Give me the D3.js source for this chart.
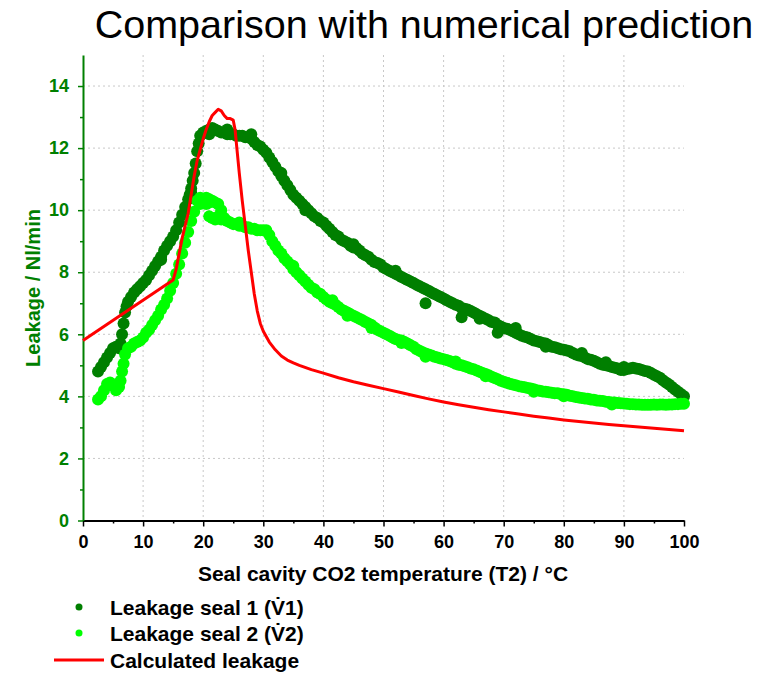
<!DOCTYPE html>
<html>
<head>
<meta charset="utf-8">
<script src="https://cdn.jsdelivr.net/npm/d3@7"></script>
<style>
  body { margin: 0; background: #fff; }
  svg { display: block; font-family: Arial, "Liberation Sans", sans-serif; }
</style>
</head>
<body>
<svg id="chart" width="774" height="673"></svg>
<script>
// Measured leakage of seal 1, [temperature °C, leakage Nl/min]
const seal1 = [
  [2.5,4.8],[3,4.95],[3.5,5.1],[4,5.25],[4.5,5.4],[5,5.55],[5.5,5.6],[6,5.55],[6.25,5.7],[6.5,6.0],
  [6.75,6.35],[7,6.7],[7.25,6.9],[7.5,7.05],[8,7.2],[8.5,7.35],[9,7.45],[9.5,7.55],[10,7.65],[10.5,7.75],
  [11,7.9],[11.5,8.05],[12,8.2],[12.5,8.35],[13,8.5],[13.5,8.7],[14,8.85],[14.5,9.0],[15,9.15],[15.5,9.35],
  [16,9.6],[16.5,9.85],[17,10.1],[17.5,10.35],[17.75,10.5],[18,10.7],[18.25,10.95],[18.5,11.2],[18.75,11.5],[19,11.9],
  [19.25,12.15],[19.5,12.4],[20,12.5],[20.5,12.55],[21,12.6],[21.5,12.65],[22,12.6],[22.5,12.55],[23,12.5],[23.5,12.5],
  [24,12.45],[24.5,12.45],[25,12.45],[25.5,12.4],[26,12.4],[26.5,12.4],[27,12.35],[27.5,12.35],[28,12.3],[28.5,12.2],
  [29,12.1],[29.5,12.05],[30,11.95],[30.5,11.85],[31,11.7],[31.5,11.55],[32,11.4],[32.5,11.25],[33,11.1],[33.5,10.95],
  [34,10.8],[34.5,10.65],[35,10.5],[35.5,10.4],[36,10.3],[36.5,10.2],[37,10.1],[37.5,10.0],[38,9.9],[38.5,9.8],
  [39,9.75],[39.5,9.65],[40,9.6],[40.5,9.5],[41,9.4],[41.5,9.3],[42,9.2],[42.5,9.15],[43,9.05],[43.5,9.0],
  [44,8.95],[44.5,8.85],[45,8.8],[45.5,8.78],[46,8.7],[46.5,8.6],[47,8.55],[47.5,8.5],[48,8.4],[48.5,8.33],
  [49,8.3],[49.5,8.25],[50,8.15],[50.5,8.1],[51,8.05],[51.5,8.0],[52,7.95],[52.5,7.9],[53,7.85],[53.5,7.8],
  [54,7.75],[54.5,7.7],[55,7.65],[55.5,7.6],[56,7.55],[56.5,7.5],[57,7.45],[57.5,7.4],[58,7.35],[58.5,7.3],
  [59,7.25],[59.5,7.2],[60,7.15],[60.5,7.1],[61,7.05],[61.5,7.0],[62,6.95],[62.5,6.92],[63,6.85],[63.5,6.82],
  [64,6.8],[64.5,6.75],[65,6.7],[65.5,6.65],[66,6.6],[66.5,6.55],[67,6.5],[67.5,6.45],[68,6.4],[68.5,6.38],
  [69,6.3],[69.5,6.25],[70,6.2],[70.5,6.18],[71,6.15],[71.5,6.1],[72,6.05],[72.5,6.0],[73,5.95],[73.5,5.92],
  [74,5.9],[74.5,5.85],[75,5.8],[75.5,5.78],[76,5.75],[76.5,5.72],[77,5.7],[77.5,5.65],[78,5.6],[78.5,5.58],
  [79,5.55],[79.5,5.52],[80,5.5],[80.5,5.48],[81,5.45],[81.5,5.4],[82,5.35],[82.5,5.32],[83,5.3],[83.5,5.25],
  [84,5.2],[84.5,5.18],[85,5.15],[85.5,5.1],[86,5.05],[86.5,5.02],[87,5.0],[87.5,4.98],[88,4.95],[88.5,4.92],
  [89,4.9],[89.5,4.85],[90,4.85],[90.5,4.88],[91,4.9],[91.5,4.92],[92,4.9],[92.5,4.88],[93,4.85],[93.5,4.82],
  [94,4.8],[94.5,4.75],[95,4.7],[95.5,4.65],[96,4.6],[96.5,4.52],[97,4.45],[97.5,4.38],[98,4.3],[98.5,4.22],
  [99,4.15],[99.5,4.08],[100,4.0],
  [57,7.0],[63,6.55],[69,6.05],[72,6.2],[90,4.95],[21,12.45],[24,12.6],[28,12.45],[45,8.9],[83,5.4],
  [33,11.2],[37,10.0],[52,8.05],[66,6.5],[77,5.6],[87,5.1],[18,10.55],[13,8.4]
];

// Measured leakage of seal 2, [temperature °C, leakage Nl/min]
const seal2 = [
  [2.5,3.9],[3,4.0],[3.5,4.2],[4,4.4],[4.5,4.45],[5,4.35],[5.5,4.2],[6,4.3],[6.25,4.5],[6.5,4.8],
  [6.75,5.05],[7,5.35],[7.5,5.55],[8,5.6],[8.5,5.7],[9,5.75],[9.5,5.8],[10,5.9],[10.5,6.05],[11,6.15],
  [11.5,6.3],[12,6.45],[12.5,6.6],[13,6.8],[13.5,6.95],[14,7.15],[14.5,7.4],[15,7.65],[15.5,7.95],[16,8.25],
  [16.5,8.6],[17,8.95],[17.5,9.3],[18,9.65],[18.5,9.95],[19,10.3],[19.5,10.4],[20,10.3],[20.5,10.2],[21,10.25],
  [21.5,10.3],[22,10.25],[22.5,10.2],[23,10.0],[23.5,9.75],[24,9.65],[24.5,9.6],[25,9.55],[25.5,9.55],[26,9.5],
  [26.5,9.5],[27,9.45],[27.5,9.45],[28,9.4],[28.5,9.4],[29,9.35],[29.5,9.35],[30,9.35],[30.5,9.35],[31,9.2],
  [31.5,9.0],[32,8.85],[32.5,8.7],[33,8.6],[33.5,8.45],[34,8.35],[34.5,8.25],[35,8.1],[35.5,8.0],[36,7.9],
  [36.5,7.8],[37,7.7],[37.5,7.6],[38,7.5],[38.5,7.45],[39,7.35],[39.5,7.3],[40,7.2],[40.5,7.12],[41,7.05],
  [41.5,7.0],[42,6.95],[42.5,6.88],[43,6.8],[43.5,6.75],[44,6.7],[44.5,6.65],[45,6.6],[45.5,6.55],[46,6.5],
  [46.5,6.45],[47,6.4],[47.5,6.35],[48,6.3],[48.5,6.22],[49,6.15],[49.5,6.1],[50,6.05],[50.5,6.0],[51,5.95],
  [51.5,5.9],[52,5.85],[52.5,5.82],[53,5.8],[53.5,5.75],[54,5.7],[54.5,5.65],[55,5.6],[55.5,5.52],[56,5.47],
  [56.5,5.42],[57,5.38],[57.5,5.35],[58,5.32],[58.5,5.28],[59,5.25],[59.5,5.22],[60,5.2],[60.5,5.17],[61,5.14],
  [61.5,5.1],[62,5.05],[62.5,5.02],[63,5.0],[63.5,4.97],[64,4.94],[64.5,4.9],[65,4.87],[65.5,4.83],[66,4.79],
  [66.5,4.75],[67,4.72],[67.5,4.68],[68,4.63],[68.5,4.59],[69,4.55],[69.5,4.5],[70,4.47],[70.5,4.44],[71,4.41],
  [71.5,4.38],[72,4.36],[72.5,4.33],[73,4.31],[73.5,4.29],[74,4.27],[74.5,4.25],[75,4.23],[75.5,4.2],[76,4.18],
  [76.5,4.16],[77,4.15],[77.5,4.13],[78,4.12],[78.5,4.1],[79,4.1],[79.5,4.08],[80,4.07],[80.5,4.05],[81,4.02],
  [81.5,4.0],[82,3.98],[82.5,3.96],[83,3.95],[83.5,3.93],[84,3.92],[84.5,3.9],[85,3.89],[85.5,3.87],[86,3.86],
  [86.5,3.85],[87,3.83],[87.5,3.82],[88,3.8],[88.5,3.8],[89,3.79],[89.5,3.78],[90,3.77],[90.5,3.76],[91,3.75],
  [91.5,3.75],[92,3.74],[92.5,3.74],[93,3.73],[93.5,3.73],[94,3.73],[94.5,3.73],[95,3.74],[95.5,3.73],[96,3.74],
  [96.5,3.74],[97,3.73],[97.5,3.74],[98,3.74],[98.5,3.75],[99,3.75],[99.5,3.76],[100,3.76],
  [19.5,10.2],[20.5,10.4],[21,10.35],[21,9.8],[21.5,9.75],[22,9.7],[22.5,9.8],[23,9.7],[41.5,7.1],[57,5.28],
  [48,6.2],[62,5.12],[75,4.15],[35,8.2],[44,6.6],[53,5.72],[67,4.65],[80,4.0],[88,3.74],[26,9.6]
];

// Numerically calculated leakage, [temperature °C, leakage Nl/min]
const calculated = [
  [0,5.8],[15,7.75],[15.5,8.1],[16,8.6],[16.5,9.1],[17,9.5],[17.5,9.9],[18,10.5],[18.5,11.1],[19,11.6],
  [19.5,11.95],[20,12.3],[20.5,12.6],[21,12.85],[21.5,13.05],[22,13.15],[22.5,13.25],[23,13.2],[23.5,13.05],[24,12.95],
  [24.5,12.95],[25,12.9],[25.3,12.6],[25.6,12.0],[26,11.2],[26.5,10.3],[27,9.5],[27.5,8.7],[28,8.0],[28.5,7.3],
  [29,6.75],[29.5,6.35],[30,6.1],[31,5.75],[32,5.5],[33,5.3],[34,5.17],[35,5.08],[36,5.0],[38,4.86],
  [40,4.75],[42.5,4.6],[45,4.47],[47.5,4.36],[50,4.25],[52.5,4.14],[55,4.03],[57.5,3.92],[60,3.82],[62.5,3.73],
  [65,3.65],[67.5,3.57],[70,3.5],[72.5,3.43],[75,3.36],[77.5,3.3],[80,3.24],[82.5,3.19],[85,3.14],[87.5,3.09],
  [90,3.05],[92.5,3.01],[95,2.97],[97.5,2.93],[100,2.89]
];

const xTicks = [0,10,20,30,40,50,60,70,80,90,100];
const yTicks = [0,2,4,6,8,10,12,14];

const titleText = "Comparison with numerical prediction";
const xTitle = "Seal cavity CO2 temperature (T2) / °C";
const yTitle = "Leakage / Nl/min";
const legendLabels = ["Leakage seal 1 (V\u03071)", "Leakage seal 2 (V\u03072)", "Calculated leakage"];

const dark = "#007f00", light = "#00ff00", red = "#ff0000", axisGreen = "#008000";

const svg = d3.select("#chart");
const plotL = 83, plotR = 684, plotT = 55, plotB = 520.5;

const x = d3.scaleLinear().domain([0, 100]).range([plotL, plotR]);
const y = d3.scaleLinear().domain([0, 15]).range([plotB, plotT]);

// Title
svg.append("text").attr("x", 424).attr("y", 38).attr("text-anchor", "middle")
  .attr("font-size", 39.5).attr("fill", "#000").text(titleText);

// Dotted grid
const grid = svg.append("g");
grid.selectAll("line.gy").data(yTicks.filter(d => d > 0)).join("line")
  .attr("x1", plotL).attr("x2", plotR).attr("y1", d => y(d)).attr("y2", d => y(d))
  .attr("stroke", "#c8c8c8").attr("stroke-width", 1).attr("stroke-dasharray", "2,3");
grid.selectAll("line.gx").data(xTicks.filter(d => d > 0 && d < 100)).join("line")
  .attr("y1", plotT).attr("y2", plotB).attr("x1", d => x(d)).attr("x2", d => x(d))
  .attr("stroke", "#c8c8c8").attr("stroke-width", 1).attr("stroke-dasharray", "2,3");

// Axes: minor ticks first, then major ticks with labels
svg.append("g").attr("transform", `translate(0,${plotB})`)
  .call(d3.axisBottom(x).tickValues(d3.range(5, 100, 10)).tickSize(3).tickFormat(""))
  .call(g => g.select(".domain").remove())
  .call(g => g.selectAll("line").attr("stroke", "#000").attr("stroke-width", 1.5));
const xAxis = svg.append("g").attr("transform", `translate(0,${plotB})`)
  .call(d3.axisBottom(x).tickValues(xTicks).tickSize(6).tickSizeOuter(0).tickPadding(9));
xAxis.select(".domain").attr("stroke", "#000").attr("stroke-width", 2);
xAxis.selectAll("line").attr("stroke", "#000").attr("stroke-width", 1.5);
xAxis.selectAll("text").attr("font-size", 18).attr("font-weight", "bold").attr("fill", "#000")
  .attr("font-family", "Arial, 'Liberation Sans', sans-serif");

svg.append("g").attr("transform", `translate(${plotL},0)`)
  .call(d3.axisLeft(y).tickValues(d3.range(1, 15, 2)).tickSize(3).tickFormat(""))
  .call(g => g.select(".domain").remove())
  .call(g => g.selectAll("line").attr("stroke", axisGreen).attr("stroke-width", 1.5));
const yAxis = svg.append("g").attr("transform", `translate(${plotL},0)`)
  .call(d3.axisLeft(y).tickValues(yTicks).tickSize(5).tickSizeOuter(0).tickPadding(9));
yAxis.select(".domain").attr("stroke", axisGreen).attr("stroke-width", 2);
yAxis.selectAll("line").attr("stroke", axisGreen).attr("stroke-width", 1.5);
yAxis.selectAll("text").attr("font-size", 18).attr("font-weight", "bold").attr("fill", axisGreen)
  .attr("font-family", "Arial, 'Liberation Sans', sans-serif");

// Axis titles
svg.append("text").attr("x", 383).attr("y", 581).attr("text-anchor", "middle")
  .attr("font-size", 21).attr("font-weight", "bold").attr("fill", "#000").text(xTitle);
svg.append("text").attr("transform", "translate(40,288) rotate(-90)")
  .attr("text-anchor", "middle").attr("font-size", 20).attr("font-weight", "bold")
  .attr("fill", axisGreen).text(yTitle);

// Measured points
const pts = svg.append("g");
pts.selectAll("circle.s1").data(seal1).join("circle")
  .attr("cx", d => x(d[0])).attr("cy", d => y(d[1])).attr("r", 6).attr("fill", dark);
pts.selectAll("circle.s2").data(seal2).join("circle")
  .attr("cx", d => x(d[0])).attr("cy", d => y(d[1])).attr("r", 6).attr("fill", light);

// Calculated curve
svg.append("path").datum(calculated)
  .attr("d", d3.line().x(d => x(d[0])).y(d => y(d[1])).curve(d3.curveLinear))
  .attr("fill", "none").attr("stroke", red).attr("stroke-width", 3).attr("stroke-linejoin", "round");

// Legend
const lg = svg.append("g");
const rows = [607, 633, 660];
lg.append("circle").attr("cx", 79).attr("cy", rows[0]).attr("r", 3.5).attr("fill", dark);
lg.append("circle").attr("cx", 79).attr("cy", rows[1]).attr("r", 3.5).attr("fill", light);
lg.append("line").attr("x1", 54).attr("x2", 104).attr("y1", rows[2]).attr("y2", rows[2])
  .attr("stroke", red).attr("stroke-width", 3);
lg.selectAll("text").data(legendLabels).join("text")
  .attr("x", 110).attr("y", (d, i) => rows[i] + 7.5)
  .attr("font-size", 21).attr("font-weight", "bold").attr("fill", "#000").text(d => d);
</script>
</body>
</html>
